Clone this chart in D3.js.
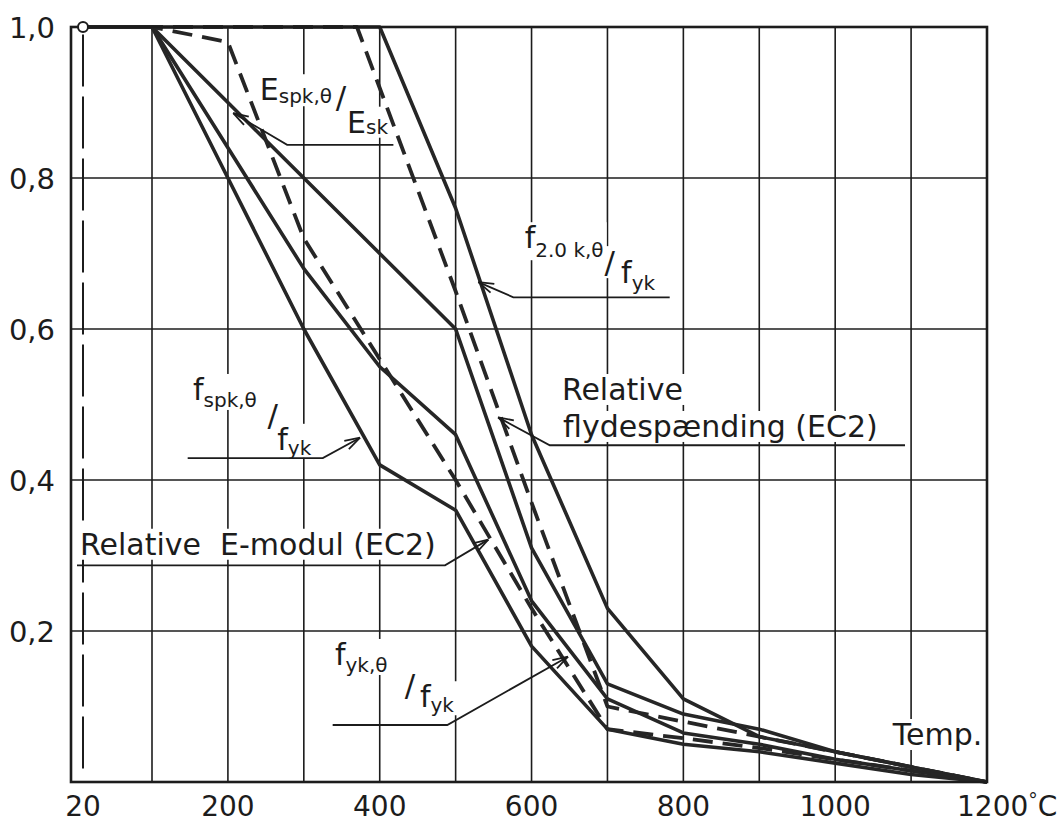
<!DOCTYPE html>
<html lang="da">
<head>
<meta charset="UTF-8">
<title>Armeringsstål ved høj temperatur</title>
<script src="https://d3js.org/d3.v7.min.js"></script>
<style>
  body { margin: 0; background: #fff; }
  svg text { font-family: "DejaVu Sans", sans-serif; fill: #1c1c1c; }
</style>
</head>
<body>
<svg width="1060" height="825"></svg>
<script>
// temperatures (°C) for the tabulated curves
const temps   = [20, 100, 200, 300, 400, 500, 600, 700, 800, 900, 1000, 1100, 1200];
const f20k    = [1, 1, 1, 1, 1, 0.76, 0.46, 0.23, 0.11, 0.06, 0.04, 0.02, 0];
const eSpk    = [1, 1, 0.90, 0.80, 0.70, 0.60, 0.31, 0.13, 0.09, 0.07, 0.04, 0.02, 0];
const fYk     = [1, 1, 0.84, 0.68, 0.55, 0.46, 0.24, 0.11, 0.065, 0.05, 0.03, 0.015, 0];
const fSpk    = [1, 1, 0.80, 0.60, 0.42, 0.36, 0.18, 0.07, 0.05, 0.04, 0.025, 0.01, 0];
const eModEC2 = [1, 1, 0.98, 0.72, 0.56, 0.40, 0.23, 0.07, 0.058, 0.045, 0.03, 0.015, 0];
// relative flydespænding (EC2) has its knee at about 370 °C
const flyTemps = [20, 370, 500, 600, 700, 800, 900, 1000, 1100, 1200];
const flyEC2   = [1, 1, 0.65, 0.37, 0.10, 0.08, 0.06, 0.04, 0.02, 0];

const xTicks = [20, 200, 400, 600, 800, 1000, 1200];
const xGrid  = [100, 200, 300, 400, 500, 600, 700, 800, 900, 1000, 1100];
const yTicks = [0.2, 0.4, 0.6, 0.8, 1.0];

// labels, positions in (temp, value)
const fracLabels = [
    {main: "E", sub: "spk,θ", main2: "E", sub2: "sk", dy: 3, num: [242, 0.903], slash: [342, 0.893], den: [357, 0.86]},
    {main: "f", sub: "2.0 k,θ", main2: "f", sub2: "yk", dy: 9, num: [591, 0.707], slash: [696, 0.674], den: [718, 0.661]},
    {main: "f", sub: "spk,θ", main2: "f", sub2: "yk", dy: 7, num: [154, 0.506], slash: [252, 0.471], den: [265, 0.44]},
    {main: "f", sub: "yk,θ", main2: "f", sub2: "yk", dy: 7, num: [341, 0.155], slash: [433, 0.114], den: [453, 0.099]}
];
const textLabels = [
    {text: "Relative", at: [640, 0.506]},
    {text: "flydespænding (EC2)", at: [641.5, 0.457]},
    {text: "Relative\u00a0\u00a0E-modul (EC2)", at: [15, 0.301]},
    {text: "Temp.", at: [1076, 0.049]}
];
const leaders = [
    [[418, 0.844], [278, 0.844], [207, 0.886]],
    [[782, 0.642], [576, 0.642], [530, 0.662]],
    [[1092, 0.446], [624, 0.446], [556, 0.483]],
    [[147, 0.429], [325, 0.429], [374, 0.456]],
    [[10, 0.287], [486, 0.287], [543, 0.321]],
    [[338, 0.0755], [489, 0.0755], [648, 0.166]]
];

const ink = "#1c1c1c";
const svg = d3.select("svg");
const x = d3.scaleLinear().domain([0, 20, 100, 1200]).range([71, 83, 152, 987]);
const y = d3.scaleLinear().domain([0, 1]).range([782, 27]);

const gGrid = svg.append("g");
const gBg = svg.append("g");
const gCurves = svg.append("g");
const gFrame = svg.append("g");
const gText = svg.append("g");

// grid
gGrid.selectAll(".vg").data(xGrid).enter().append("line")
    .attr("x1", d => x(d)).attr("x2", d => x(d))
    .attr("y1", y(0)).attr("y2", y(1))
    .attr("stroke", ink).attr("stroke-width", 1.6);
gGrid.selectAll(".hg").data(yTicks.slice(0, 4)).enter().append("line")
    .attr("x1", x(0)).attr("x2", x(1200))
    .attr("y1", d => y(d)).attr("y2", d => y(d))
    .attr("stroke", ink).attr("stroke-width", 1.6);
// 20 °C reference
gGrid.append("line")
    .attr("x1", x(20)).attr("x2", x(20))
    .attr("y1", y(0.99)).attr("y2", y(0.015))
    .attr("stroke", ink).attr("stroke-width", 2)
    .attr("stroke-dasharray", "52,10");

// curves
const line = d3.line().x(d => x(d[0])).y(d => y(d[1]));
const solid = [f20k, eSpk, fYk, fSpk];
gCurves.selectAll(".solid").data(solid).enter().append("path")
    .attr("d", s => line(temps.map((t, i) => [t, s[i]])))
    .attr("fill", "none").attr("stroke", "#262626")
    .attr("stroke-width", 3.6).attr("stroke-linejoin", "round");
const dashed = [
    flyTemps.map((t, i) => [t, flyEC2[i]]),
    temps.map((t, i) => [t, eModEC2[i]])
];
gCurves.selectAll(".dash").data(dashed).enter().append("path")
    .attr("d", line)
    .attr("fill", "none").attr("stroke", "#262626")
    .attr("stroke-width", 3.8).attr("stroke-dasharray", "20,10")
    .attr("stroke-linejoin", "round");

// frame
gFrame.append("rect")
    .attr("x", x(0)).attr("y", y(1))
    .attr("width", x(1200) - x(0)).attr("height", y(0) - y(1))
    .attr("fill", "none").attr("stroke", ink).attr("stroke-width", 2.6);
gFrame.append("circle")
    .attr("cx", x(20)).attr("cy", y(1)).attr("r", 5)
    .attr("fill", "#fff").attr("stroke", ink).attr("stroke-width", 2);

// axes labels
gText.selectAll(".xl").data(xTicks.slice(0, -1)).enter().append("text")
    .attr("x", d => x(d)).attr("y", 816)
    .attr("text-anchor", "middle").attr("font-size", 28)
    .text(d => d);
const last = gText.append("text")
    .attr("x", x(1200) - 30).attr("y", 816).attr("font-size", 28);
last.append("tspan").text("1200");
last.append("tspan").attr("font-size", 19).attr("dy", -9).text("°");
last.append("tspan").attr("dy", 9).text("C");

gText.selectAll(".yl").data(yTicks).enter().append("text")
    .attr("x", 55).attr("y", d => y(d) + 11)
    .attr("text-anchor", "end").attr("font-size", 29)
    .text(d => d3.format(".1f")(d).replace(".", ","));

// annotation text
function pt(p) { return [x(p[0]), y(p[1])]; }
const boxes = [];
fracLabels.forEach(l => {
    const n = gText.append("text").attr("x", pt(l.num)[0]).attr("y", pt(l.num)[1]).attr("font-size", 30);
    n.append("tspan").text(l.main);
    n.append("tspan").attr("font-size", 20).attr("dy", l.dy).text(l.sub);
    const s = gText.append("text").attr("x", pt(l.slash)[0]).attr("y", pt(l.slash)[1])
        .attr("font-size", 31).text("/");
    const d = gText.append("text").attr("x", pt(l.den)[0]).attr("y", pt(l.den)[1]).attr("font-size", 30);
    d.append("tspan").text(l.main2);
    d.append("tspan").attr("font-size", 20).attr("dy", l.dy - 2).text(l.sub2);
    boxes.push(n, s, d);
});
textLabels.forEach(l => {
    boxes.push(gText.append("text").attr("x", pt(l.at)[0]).attr("y", pt(l.at)[1])
        .attr("font-size", 30).text(l.text));
});
boxes.forEach(t => {
    const b = t.node().getBBox();
    gBg.append("rect").attr("x", b.x - 3).attr("y", b.y + 2)
        .attr("width", b.width + 6).attr("height", b.height - 4).attr("fill", "#fff");
});

// leader lines with open arrowheads
const leader = d3.line();
leaders.forEach(pts => {
    const p = pts.map(pt);
    gText.append("path").attr("d", leader(p))
        .attr("fill", "none").attr("stroke", ink).attr("stroke-width", 1.8);
    const [ax, ay] = p[p.length - 1], [bx, by] = p[p.length - 2];
    const ang = Math.atan2(by - ay, bx - ax);
    [-0.3, 0.3].forEach(a => {
        gText.append("line")
            .attr("x1", ax).attr("y1", ay)
            .attr("x2", ax + 16 * Math.cos(ang + a)).attr("y2", ay + 16 * Math.sin(ang + a))
            .attr("stroke", ink).attr("stroke-width", 1.8);
    });
});
</script>
</body>
</html>
